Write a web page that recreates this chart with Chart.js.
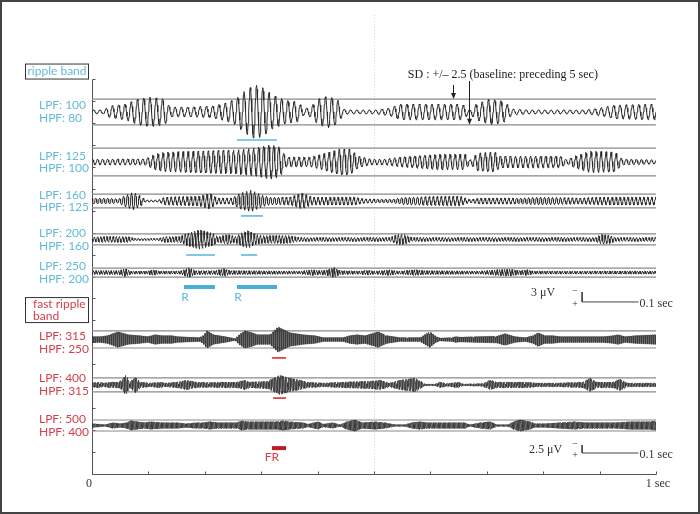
<!DOCTYPE html>
<html><head><meta charset="utf-8">
<script src="https://cdn.jsdelivr.net/npm/chart.js@4.4.1/dist/chart.umd.min.js"></script>
<style>html,body{margin:0;padding:0;background:#fff}canvas{display:block}</style>
</head><body><canvas id="c" width="700" height="514"></canvas>
<script>
// ---------------- data ----------------
const X_TICKS = [0, 0.1, 0.2, 0.3, 0.4, 0.5, 0.6, 0.7, 0.8, 0.9, 1];
const X_TICK_LABELS = ['0', '', '', '', '', '', '', '', '', '', '1 sec'];
const Y_TICKS = [0,1,2,3,4,5,6,7,8,9,10,11,12,13,14,15,16,17,18];

const BAND_LPF = [100, 125, 160, 200, 250, 315, 400, 500];
const BAND_HPF = [80, 100, 125, 160, 200, 250, 315, 400];
const BAND_GROUP = ['ripple','ripple','ripple','ripple','ripple','fast','fast','fast'];
const CARRIER_HZ = [90, 112, 142, 180, 225, 282, 357, 450];
const TRACE_OFFSET = [16.5, 14.22, 12.44, 10.69, 9.18, 6.13, 4.06, 2.21];
const THRESHOLD_UV = [3.9, 4.2, 2.1, 1.67, 1.36, 2.66, 2.19, 1.72];   // +/- 2.5 SD

// amplitude envelopes: [time ms, amplitude uV]
const ENV_100_80 = [[0,.6],[20,.6],[32,1.8],[59,2.4],[82,3.9],[103,4.5],[129,3.9],[138,1.5],[174,1.5],[213,1.8],[236,2.7],[255,3.9],[271,6.4],[289,8.2],[303,7.3],[319,5.2],[342,3.6],[365,3.0],[376,.9],[387,1.5],[401,3.9],[418,4.8],[436,3.6],[445,.9],[457,.6],[502,.6],[528,1.2],[546,2.4],[617,2.4],[656,2.4],[670,.6],[681,2.4],[706,3.9],[729,3.3],[745,.9],[777,.6],[874,.6],[901,1.2],[927,2.1],[1000,2.4]];
const ENV_125_100 = [[0,.9],[94,.9],[112,2.4],[129,3.0],[191,3.3],[254,3.6],[289,4.2],[316,5.2],[333,4.5],[344,1.5],[387,1.5],[408,2.4],[440,3.9],[457,3.9],[472,1.8],[493,.9],[520,.9],[546,1.5],[617,2.4],[661,2.4],[670,.6],[684,2.7],[714,3.0],[723,1.8],[830,1.8],[842,.6],[856,1.8],[883,3.3],[927,3.0],[940,.9],[1000,.6]];
const ENV_160_125 = [[0,.9],[32,.9],[46,.6],[59,1.8],[73,2.7],[87,1.5],[94,.3],[117,.3],[129,1.2],[191,1.5],[209,2.4],[222,.9],[248,.9],[262,2.4],[282,3.3],[301,1.8],[316,1.2],[351,1.2],[372,2.4],[390,1.2],[466,1.2],[484,.6],[534,.6],[555,1.2],[652,1.5],[670,.45],[688,.9],[759,.9],[794,1.2],[865,.9],[901,1.2],[1000,1.2]];
const ENV_200_160 = [[0,.6],[14,.9],[64,.9],[76,.3],[117,.3],[129,.9],[156,.9],[167,1.8],[191,3.0],[215,1.8],[223,.9],[241,1.5],[254,.9],[266,2.1],[277,2.7],[291,1.5],[301,1.2],[348,1.2],[369,.6],[528,.6],[541,1.5],[555,1.5],[567,.6],[892,.6],[904,1.5],[918,1.2],[929,.6],[1000,.6]];
const ENV_250_200 = [[0,.6],[46,.6],[59,1.2],[69,.45],[98,.45],[108,.9],[119,.45],[156,.45],[172,1.5],[184,.6],[218,.6],[234,1.2],[245,.6],[369,.45],[390,.9],[404,.6],[418,.9],[429,1.5],[440,.6],[475,.45],[488,.76],[502,.45],[528,.9],[543,.45],[573,.9],[590,.6],[688,.45],[718,.9],[741,1.06],[759,.6],[771,.9],[782,.45],[1000,.45]];
const ENV_315_250 = [[0,.94],[14,.94],[27,1.25],[46,2.5],[64,1.56],[85,1.25],[99,.94],[112,1.56],[124,1.25],[142,1.25],[151,.94],[191,.63],[197,1.25],[204,2.81],[215,1.56],[236,.94],[254,.3],[261,1.56],[271,2.81],[284,2.19],[293,1.56],[316,1.56],[321,2.5],[330,4.06],[340,3.13],[351,2.19],[374,1.56],[395,1.25],[410,.63],[445,.63],[457,1.25],[470,1.56],[484,1.25],[507,2.5],[523,1.25],[546,.63],[582,.63],[590,1.56],[599,2.5],[610,.94],[617,.47],[638,.63],[645,.94],[652,.78],[718,1.1],[732,1.88],[750,.94],[768,.63],[782,1.25],[791,2.19],[803,1.25],[817,1.25],[830,.94],[906,.94],[924,1.25],[933,1.56],[945,.94],[963,1.25],[1000,1.56]];
const ENV_400_315 = [[0,.63],[11,.94],[21,.63],[32,.94],[46,.94],[53,1.56],[60,3.13],[67,.94],[73,1.88],[78,2.5],[85,.94],[103,.63],[121,.94],[129,.63],[151,.94],[168,1.56],[184,.94],[209,.78],[232,.94],[257,.94],[271,1.56],[280,.94],[312,1.25],[319,1.88],[333,3.13],[351,2.19],[369,1.56],[381,.94],[410,.63],[445,.94],[493,1.25],[511,1.56],[528,.63],[546,1.56],[573,2.19],[585,.94],[590,.3],[608,.3],[617,.94],[629,.47],[649,.94],[658,.3],[693,.47],[706,1.56],[718,.94],[771,.94],[789,.63],[824,.63],[871,.94],[883,2.19],[895,.94],[924,.94],[936,1.88],[949,.63],[1000,.63]];
const ENV_500_400 = [[0,.63],[14,.47],[23,.3],[37,.94],[50,.63],[62,.94],[69,1.56],[80,1.25],[94,.94],[103,1.25],[126,.94],[151,.94],[168,.63],[183,.94],[197,.94],[209,1.25],[222,.94],[257,.94],[266,1.56],[275,1.25],[328,1.25],[339,1.56],[351,1.25],[374,.94],[383,.47],[401,1.25],[410,.47],[427,.94],[440,.3],[452,1.25],[466,1.88],[479,.94],[502,1.25],[520,.94],[537,.3],[555,.3],[567,.94],[582,1.25],[594,.94],[635,.94],[661,.94],[670,.3],[688,.94],[706,1.25],[718,.3],[738,.3],[748,1.25],[759,1.88],[777,1.25],[785,.63],[803,.63],[830,.94],[856,1.25],[874,.94],[901,.94],[927,.94],[954,1.25],[989,1.25],[1000,1.56]];
const ENVELOPES = [ENV_100_80, ENV_125_100, ENV_160_125, ENV_200_160, ENV_250_200, ENV_315_250, ENV_400_315, ENV_500_400];

// detected events (seconds)
const RIPPLE_TRACE_EVENTS = [[0, 0.257, 0.328], [2, 0.264, 0.303], [3, 0.167, 0.218], [3, 0.264, 0.293]];
const R_EVENTS = [[0.163, 0.218], [0.257, 0.328]];
const FAST_TRACE_EVENTS = [[5, 0.319, 0.344], [6, 0.321, 0.344]];
const FR_EVENTS = [[0.319, 0.344]];

// scale bars
const SCALE_BAR_UV = {ripple: 3, fast: 2.5};
const SCALE_BAR_SEC = 0.1;

// ---------------- layout / style ----------------
const GAIN = {ripple: 0.1504, fast: 0.1458};        // y-units per uV
const TRACE_WIDTH = [1, 1, 0.95, 0.85, 0.8, 0.7, 0.65, 0.65];
const TRACE_COLOR = ['#2a2a2a','#2a2a2a','#2a2a2a','#2a2a2a','#2a2a2a','#333','#333','#333'];
const BLUE = 'rgb(98,186,216)', BLUE_BAR = 'rgb(76,174,212)';
const RED = 'rgb(212,64,76)', RED_BAR = 'rgb(186,28,40)';
const MARK_GAP = {0: 1.28, 2: 0.68, 3: 0.71, 5: 0.84, 6: 0.6};  // distance below trace centre (y-units)
const R_BAR_Y = 8.52, FR_BAR_Y = 1.18;
const SCALE_POS = {ripple: {t: 0.869, y: 7.84}, fast: {t: 0.869, y: 0.957}};

function envAt(env, ms) {
  if (ms <= env[0][0]) return env[0][1];
  for (let i = 1; i < env.length; i++) {
    if (ms <= env[i][0]) {
      const a = env[i-1], b = env[i];
      return a[1] + (b[1]-a[1]) * (ms - a[0]) / (b[0]-a[0]);
    }
  }
  return env[env.length-1][1];
}

const datasets = [];
// traces
ENVELOPES.forEach((env, i) => {
  const f = CARRIER_HZ[i], off = TRACE_OFFSET[i], g = GAIN[BAND_GROUP[i]];
  const n = Math.round(f * 12);
  const pts = [];
  for (let k = 0; k <= n; k++) {
    const t = k / n;
    pts.push({x: t, y: off + g * envAt(env, t*1000) * Math.sin(2*Math.PI*f*t + i)});
  }
  datasets.push({data: pts, borderColor: TRACE_COLOR[i], borderWidth: TRACE_WIDTH[i], pointRadius: 0, order: 0, parsing: false});
});
// thresholds
TRACE_OFFSET.forEach((off, i) => {
  const d = THRESHOLD_UV[i] * GAIN[BAND_GROUP[i]];
  [off + d, off - d].forEach(y => datasets.push({data: [{x:0,y},{x:1,y}], borderColor: '#8a8a8a', borderWidth: 1.2, pointRadius: 0, order: 2, parsing: false}));
});
// event markers
RIPPLE_TRACE_EVENTS.forEach(([tr, a, b]) => {
  const y = TRACE_OFFSET[tr] - MARK_GAP[tr];
  datasets.push({data: [{x:a,y},{x:b,y}], borderColor: BLUE, borderWidth: 1.6, pointRadius: 0, order: 1, parsing: false});
});
R_EVENTS.forEach(([a, b]) => datasets.push({data: [{x:a,y:R_BAR_Y},{x:b,y:R_BAR_Y}], borderColor: BLUE_BAR, borderWidth: 4, borderCapStyle: 'butt', pointRadius: 0, order: 1, parsing: false}));
FAST_TRACE_EVENTS.forEach(([tr, a, b]) => {
  const y = TRACE_OFFSET[tr] - MARK_GAP[tr];
  datasets.push({data: [{x:a,y},{x:b,y}], borderColor: 'rgb(222,70,70)', borderWidth: 1.8, pointRadius: 0, order: 1, parsing: false});
});
FR_EVENTS.forEach(([a, b]) => datasets.push({data: [{x:a,y:FR_BAR_Y},{x:b,y:FR_BAR_Y}], borderColor: RED_BAR, borderWidth: 4, pointRadius: 0, order: 1, parsing: false}));
// scale bars
['ripple','fast'].forEach(k => {
  const p = SCALE_POS[k], top = p.y + SCALE_BAR_UV[k] * GAIN[k];
  datasets.push({data: [{x:p.t,y:top},{x:p.t,y:p.y},{x:p.t+SCALE_BAR_SEC,y:p.y}], borderColor: '#444', borderWidth: 1, pointRadius: 0, order: 1, parsing: false});
});

const decor = {
  id: 'decor',
  beforeDatasetsDraw(chart) {
    const {ctx, scales: {x, y}} = chart;
    ctx.save();
    // dotted mid line
    ctx.strokeStyle = '#d8d8d8'; ctx.lineWidth = 1; ctx.setLineDash([1, 2]);
    ctx.beginPath(); ctx.moveTo(Math.round(x.getPixelForValue(0.5))+0.5, 15); ctx.lineTo(Math.round(x.getPixelForValue(0.5))+0.5, y.getPixelForValue(0)); ctx.stroke();
    ctx.setLineDash([]);
    // axes
    const x0 = Math.round(x.getPixelForValue(0)) + 0.5, y0 = Math.round(y.getPixelForValue(0)) + 0.5;
    ctx.strokeStyle = '#555'; ctx.lineWidth = 1;
    ctx.beginPath();
    ctx.moveTo(x0, Math.round(y.getPixelForValue(18)) + 0.5); ctx.lineTo(x0, y0);
    ctx.lineTo(Math.round(x.getPixelForValue(1)) + 0.5, y0);
    X_TICKS.forEach(t => { const px = Math.round(x.getPixelForValue(t)) + 0.5; ctx.moveTo(px, y0); ctx.lineTo(px, y0 - 3); });
    Y_TICKS.forEach(v => { const py = Math.round(y.getPixelForValue(v)) + 0.5; ctx.moveTo(x0, py); ctx.lineTo(x0 + 3, py); });
    ctx.stroke();
    ctx.fillStyle = '#333'; ctx.font = '12px "Liberation Serif"'; ctx.textAlign = 'center'; ctx.textBaseline = 'middle';
    X_TICKS.forEach((t, i) => { if (X_TICK_LABELS[i]) ctx.fillText(X_TICK_LABELS[i], x.getPixelForValue(t) + (i === 0 ? -3 : 2), y0 + 9); });
    ctx.restore();
  },
  afterDatasetsDraw(chart) {
    const {ctx, scales: {x, y}} = chart;
    ctx.save();
    // frame
    ctx.strokeStyle = '#444'; ctx.lineWidth = 2;
    ctx.strokeRect(1, 1, 698, 512);
    // group boxes
    const left = x.getPixelForValue(0);
    ctx.lineWidth = 1; ctx.strokeStyle = '#333';
    ctx.font = '12px Lato'; ctx.textBaseline = 'middle';
    ctx.strokeRect(left - 66.5, y.getPixelForValue(18.34) - 7.5, 63, 15);
    ctx.fillStyle = BLUE; ctx.textAlign = 'center';
    ctx.fillText('ripple band', left - 35, y.getPixelForValue(18.34));
    const fy = y.getPixelForValue(7.47);
    ctx.strokeRect(left - 66.5, fy - 12.5, 63, 25);
    ctx.fillStyle = RED; ctx.textAlign = 'left';
    ctx.fillText('fast ripple', left - 59, fy - 6);
    ctx.fillText('band', left - 59, fy + 6);
    // band labels
    TRACE_OFFSET.forEach((off, i) => {
      const py = y.getPixelForValue(off) + (i === 5 ? 3 : 0);
      ctx.fillStyle = BAND_GROUP[i] === 'ripple' ? BLUE : RED;
      ctx.fillText('LPF: ' + BAND_LPF[i], left - 53, py - 6.3);
      ctx.fillText('HPF: ' + BAND_HPF[i], left - 53, py + 6.3);
    });
    // R / FR labels
    ctx.textAlign = 'center'; ctx.fillStyle = BLUE;
    R_EVENTS.forEach(([a]) => ctx.fillText('R', x.getPixelForValue(a) + 1, y.getPixelForValue(8.07)));
    ctx.fillStyle = RED;
    FR_EVENTS.forEach(([a]) => ctx.fillText('FR', x.getPixelForValue(a), y.getPixelForValue(0.77)));
    // SD annotation
    ctx.fillStyle = '#222'; ctx.font = '12px "Liberation Serif"'; ctx.textAlign = 'left';
    ctx.fillText('SD : +/\u2013 2.5 (baseline: preceding 5 sec)', x.getPixelForValue(0.56), y.getPixelForValue(18.18));
    const arrow = (t, y1, y2) => {
      const px = Math.round(x.getPixelForValue(t)) + 0.5, a = y.getPixelForValue(y1), b = y.getPixelForValue(y2);
      ctx.strokeStyle = '#222'; ctx.lineWidth = 1;
      ctx.beginPath(); ctx.moveTo(px, a); ctx.lineTo(px, b - 5); ctx.stroke();
      ctx.fillStyle = '#222'; ctx.beginPath(); ctx.moveTo(px - 2.5, b - 6); ctx.lineTo(px + 2.5, b - 6); ctx.lineTo(px, b); ctx.closePath(); ctx.fill();
    };
    const t1 = TRACE_OFFSET[0], d1 = THRESHOLD_UV[0] * GAIN.ripple;
    arrow(0.640, 17.73, t1 + d1);
    arrow(0.668, 17.91, t1 - d1);
    // scale bar texts
    ['ripple','fast'].forEach(k => {
      const p = SCALE_POS[k];
      const bx = x.getPixelForValue(p.t), by = y.getPixelForValue(p.y), bt = y.getPixelForValue(p.y + SCALE_BAR_UV[k] * GAIN[k]);
      ctx.fillStyle = '#333'; ctx.font = '12px "Liberation Serif"';
      ctx.textAlign = 'right';
      ctx.fillText((k === 'ripple' ? '3' : '2.5') + ' \u03bcV', bx - (k === 'ripple' ? 27 : 20), k === 'ripple' ? bt + 1 : (bt + by) / 2 + 1);
      ctx.textAlign = 'left';
      ctx.fillText(SCALE_BAR_SEC + ' sec', x.getPixelForValue(p.t + SCALE_BAR_SEC) + 1, by + 2);
      ctx.font = '10px "Liberation Serif"'; ctx.textAlign = 'center';
      ctx.fillText('\u2212', bx - 7, bt - 1);
      ctx.fillText('+', bx - 7, by + 2);
    });
    ctx.restore();
  }
};

new Chart(document.getElementById('c'), {
  type: 'line',
  data: {datasets},
  options: {
    responsive: false, animation: false, events: [], devicePixelRatio: 1,
    layout: {padding: {left: 92, right: 44, top: 79, bottom: 40}},
    plugins: {legend: {display: false}, tooltip: {enabled: false}},
    scales: {
      x: {type: 'linear', min: 0, max: 1, display: false},
      y: {type: 'linear', min: 0, max: 18, display: false}
    },
    elements: {point: {radius: 0}, line: {tension: 0}}
  },
  plugins: [decor]
});
</script></body></html>
